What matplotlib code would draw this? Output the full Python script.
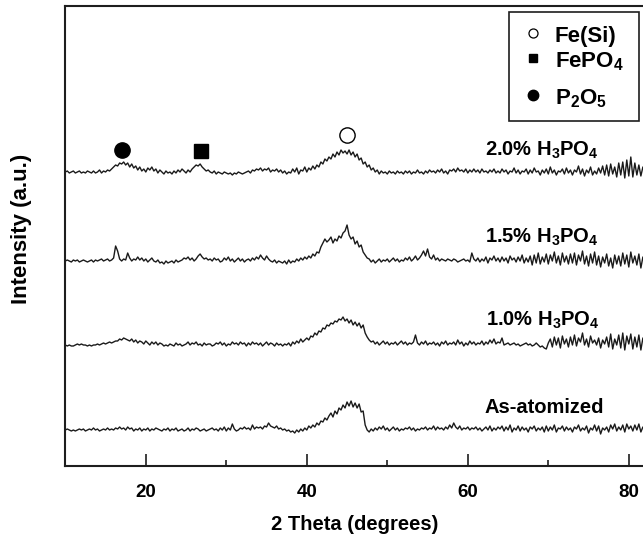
import numpy as np
import matplotlib
matplotlib.use("Agg")
import matplotlib.pyplot as plt
from matplotlib.lines import Line2D
from matplotlib.patches import Rectangle

plt.rcParams['font.family'] = ['Liberation Sans', 'DejaVu Sans']
plt.rcParams['font.weight'] = 'bold'
plt.rcParams['mathtext.fontset'] = 'custom'
plt.rcParams['mathtext.rm'] = 'Liberation Sans:bold'
plt.rcParams['mathtext.it'] = 'Liberation Sans:bold'
plt.rcParams['mathtext.bf'] = 'Liberation Sans:bold'

# ---- data (2 theta grid, 0.25 deg step) ----
theta_start, theta_stop, theta_step = 10.0, 82.0, 0.25
two_theta = np.arange(theta_start, theta_stop + theta_step / 2, theta_step)

s_20 = [
    0, 1, -1, 0, 1, -1, 0, 1, -1, 0, -1, 1,
    0, -1, 1, -1, 0, 2, -1, 1, 0, 2, 1, 3,
    5, 7, 6, 9, 8, 10, 7, 9, 5, 8, 4, 6,
    2, 5, 1, 3, 0, 4, 2, 5, 1, 3, -1, 2,
    0, -2, 1, -1, 0, -2, 1, -1, 2, 0, 3, 1,
    -1, 2, 0, 3, 5, 7, 6, 8, 5, 3, 1, 2,
    0, -1, 1, -2, 0, -1, -2, 0, -1, -2, -1, -3,
    -1, -2, 0, -1, -2, -1, 0, 1, -1, 2, 1, 3,
    2, 4, 1, 3, 2, 4, 0, 2, 1, 3, 0, 2,
    -1, 1, -2, 0, -1, 3, 0, 4, -2, 2, 1, 5,
    0, 4, 2, 6, 3, 7, 5, 10, 8, 13, 11, 15,
    13, 18, 15, 20, 17, 22, 19, 21, 18, 22, 17, 20,
    15, 18, 12, 14, 8, 10, 5, 7, 2, 4, 0, 2,
    -2, 1, -1, 0, -2, 1, -1, 0, -2, 1, -1, 0,
    -2, 1, -1, 1, -2, 0, -1, 2, -1, 0, -2, 1,
    -1, 2, 0, 1, -1, 2, 0, 3, -1, 1, -2, 2,
    1, 3, 0, 4, 1, 2, 0, 3, -1, 2, 0, 3,
    0, 2, -1, 3, 0, 1, -1, 2, 0, 3, -1, 1,
    -1, 3, 0, 2, -2, 1, 0, 4, -1, 2, -2, 1,
    0, 3, -2, 2, -1, 4, 0, 1, -3, 2, -1, 3,
    -2, 5, -1, 2, -3, 1, 0, 3, -2, 4, -1, 2,
    -3, 2, 0, 6, -2, 3, -4, 2, -1, 5, -3, 1,
    -2, 4, -1, 6, -3, 7, -4, 8, -2, 5, -5, 9,
    -3, 10, -6, 12, -4, 15, -5, 9, -3, 7, -4, 5,
    0,
]

s_15 = [
    0, 1, 0, -1, 1, 0, 1, -1, 0, 1, 0, -1,
    0, 1, -1, 1, 0, 1, 2, 0, 1, 2, 0, 1,
    3, 15, 10, 2, 0, 2, 1, 8, 3, 0, 2, 1,
    4, 1, 3, 0, 2, -1, 1, 3, 0, -1, 1, -2,
    -1, -3, 0, -2, -1, 0, -2, 1, -1, 0, 1, 3,
    2, 4, 1, 3, 0, 2, 5, 7, 4, 2, 3, 1,
    2, 0, 3, 1, 2, -1, 0, 3, 1, 4, 0, 2,
    -1, 1, 3, 0, 2, -1, 1, 2, 0, 3, 1, 4,
    2, 6, 3, 1, 5, 2, 0, -1, 1, -2, 0, -1,
    -2, 0, -3, 1, -2, 0, -1, 2, 0, 3, 1, 4,
    2, 5, 3, 7, 5, 9, 8, 14, 18, 22, 19, 21,
    24, 18, 22, 20, 25, 23, 28, 30, 36, 26, 22, 24,
    17, 20, 14, 16, 9, 6, 3, 2, -1, 1, -2, 0,
    2, -1, 1, 0, 2, -1, 1, 3, 0, 2, -1, 1,
    0, 3, 1, 4, 0, 2, 5, 1, 3, 6, 10, 5,
    12, 4, 2, 6, 1, 3, 0, 2, 1, 0, 2, 1,
    0, 2, 1, -1, 0, 1, 2, 0, 1, -1, 8, 2,
    0, 3, -1, 2, 0, 4, -2, 3, 1, 5, 0, 3,
    -1, 4, 0, 3, -2, 5, 1, 3, -1, 4, 0, 6,
    -2, 3, -1, 5, -4, 6, -2, 8, -3, 4, -1, 7,
    -3, 6, 0, 9, -2, 5, -4, 8, -1, 5, -3, 7,
    -2, 8, -4, 6, 0, 10, -3, 5, -5, 7, -2, 9,
    -4, 5, -6, 4, -2, 7, -5, 3, -7, 6, -3, 5,
    -5, 8, -3, 6, -6, 9, -2, 5, -4, 7, -7, 4,
    -5,
]

s_10 = [
    0, -1, 0, -1, -1, 0, 1, 0, 1, 0, 0, -1,
    0, -1, 0, 0, 1, 0, 1, 2, 1, 2, 3, 2,
    3, 4, 4, 6, 5, 7, 6, 5, 4, 6, 3, 5,
    2, 4, 3, 1, 4, 2, 0, 3, 1, 3, 0, 2,
    1, -1, 0, -1, 1, 0, -1, 2, 0, 1, -1, 0,
    1, 3, 0, 2, 1, 3, 0, 1, -1, 2, 0, 1,
    1, -1, 0, 2, 1, 3, 0, 2, -1, 1, 0, 3,
    1, 2, 0, 3, 1, 2, -1, 2, 0, 3, 1, 2,
    0, 2, -1, 1, 3, 0, 2, 1, -1, 2, 0, 1,
    -1, 1, 0, 2, -1, 3, 1, 4, 2, 6, 3, 5,
    7, 5, 9, 8, 12, 10, 14, 13, 17, 16, 20, 19,
    22, 21, 24, 23, 26, 25, 28, 24, 26, 22, 25, 20,
    23, 19, 22, 17, 20, 12, 8, 5, 3, 4, 1, 3,
    0, 2, 4, 1, 3, 0, 2, 1, 3, 0, 2, 4,
    1, 3, 0, 2, 1, 3, 10, 2, 0, 3, 1, 4,
    0, 2, 1, 3, 0, 2, -1, 3, 1, 4, 0, 2,
    1, 3, 0, 5, 1, 3, -1, 2, 0, 4, 1, 3,
    0, 2, 1, 4, 0, 3, 1, 5, 2, 6, 1, 3,
    2, 7, 0, 1, 2, 0, 1, 2, 0, 1, -1, 0,
    1, 2, 0, 1, -1, 0, 2, 0, -2, -1, -3, -4,
    2, 6, -2, 8, 0, 7, -3, 9, 1, 6, -2, 8,
    0, 10, -1, 7, 3, 12, 0, 6, -2, 9, 2, 5,
    0, 7, -3, 5, 1, 8, -2, 11, -4, 6, 0, 10,
    -3, 12, -5, 9, 1, 11, -4, 8, -2, 10, -5, 7,
    0,
]

s_as = [
    0, 1, 0, -1, 0, -1, 0, 1, 0, 1, -1, 0,
    1, 0, 2, 0, 1, -1, 0, 1, 0, 2, 0, 1,
    0, 2, 1, 3, 1, 2, 0, 3, 1, 2, -1, 1,
    0, 2, -1, 1, 0, 2, -1, 1, 0, 2, 1, 0,
    -1, 1, 0, 2, -1, 1, 0, 2, -1, 0, 1, -1,
    0, 2, -1, 1, 0, 2, 1, -1, 0, 1, -1, 0,
    1, 2, 0, 1, -1, 2, 0, 3, -1, 2, 0, 6,
    1, -1, 0, 2, 1, 3, 1, 2, 0, 5, 1, 3,
    2, 3, 1, 4, 3, 7, 4, 3, 2, 4, 1, 2,
    0, 1, -1, 0, -2, -1, -3, 0, -2, 1, -1, 2,
    0, 4, 2, 5, 3, 7, 5, 9, 8, 12, 10, 14,
    17, 13, 19, 16, 22, 20, 25, 22, 28, 24, 29, 23,
    27, 22, 26, 18, 19, 5, 0, -2, 1, -1, 2, 0,
    3, 1, 4, 0, 2, -1, 1, 3, 0, 2, -1, 1,
    0, 2, 1, 3, 0, 2, -1, 1, 0, 2, 1, 3,
    0, 2, 1, 4, 0, 3, 1, 2, 0, 3, 1, 5,
    2, 7, 3, 1, 4, 0, 2, 1, 3, 0, 2, 1,
    3, 0, 2, -1, 1, 3, 0, 4, -1, 2, 0, 3,
    1, 4, -1, 3, 0, 5, -2, 2, 0, 4, -1, 3,
    0, 2, -2, 3, 1, 4, -1, 2, 0, 3, -2, 4,
    -1, 3, 0, 5, -2, 2, 1, 4, -1, 3, 0, 2,
    -2, 3, 1, 5, -1, 2, 0, 4, -3, 2, 0, 5,
    -1, 4, -4, 2, 0, 3, -2, 5, 1, 6, -1, 3,
    0, 5, -2, 6, 1, 4, -1, 5, 0, 6, -2, 3,
    1,
]

series = [s_as, s_10, s_15, s_20]
series_labels = ['As-atomized', r'1.0% H$_3$PO$_4$', r'1.5% H$_3$PO$_4$', r'2.0% H$_3$PO$_4$']

# phase markers on the 2.0% pattern
phase_names = ['Fe(Si)', r'FePO$_4$', r'P$_2$O$_5$']
phase_positions = [45.0, 26.9, 17.1]

x_ticks = [20, 40, 60, 80]
x_minor = [30, 50, 70]
x_label = '2 Theta (degrees)'
y_label = 'Intensity (a.u.)'

for s in series:
    assert len(s) == len(two_theta), (len(s), len(two_theta))

# ---- layout / style ----
offsets = [36, 121, 205, 294]
label_x = [62.1, 62.3, 62.1, 62.1]
label_y = [53, 140, 223, 310]
marker_y = [331, 315, 316]
W, H = 643, 538

fig = plt.figure(figsize=(W / 100, H / 100), dpi=100)
ax = fig.add_axes([65.3 / W, 1 - 466 / H, 644 / W, 460 / H])
ax.set_xlim(10, 90)
ax.set_ylim(0, 460)

line_color = '#1a1a1a'
for s, off in zip(series, offsets):
    ax.plot(two_theta, np.asarray(s) + off, color=line_color, lw=1.0)

for lab, lx, ly in zip(series_labels, label_x, label_y):
    ax.text(lx, ly, lab, fontsize=14.5, fontweight='bold', ha='left', va='baseline')

# phase markers
ax.plot([phase_positions[0]], [marker_y[0]], marker='o', ms=11, mfc='white', mec='black', mew=1.0, ls='none')
ax.plot([phase_positions[1]], [marker_y[1]], marker='s', ms=10, mfc='black', mec='black', ls='none')
ax.plot([phase_positions[2]], [marker_y[2]], marker='o', ms=11, mfc='black', mec='black', ls='none')

for side in ['left', 'bottom', 'top']:
    ax.spines[side].set_linewidth(1.5)
    ax.spines[side].set_color('#1e1e1e')
ax.spines['right'].set_visible(False)

ax.set_yticks([])
ax.set_xticks(x_ticks)
ax.set_xticks(x_minor, minor=True)
ax.tick_params(axis='x', which='major', direction='in', length=8.6, width=1.2,
               labelsize=13.5, pad=13, top=False, color='#1e1e1e')
ax.tick_params(axis='x', which='minor', direction='in', length=4.3, width=1.2,
               top=False, color='#1e1e1e')
for t in ax.get_xticklabels():
    t.set_fontweight('bold')

fig.text(355 / W, 1 - 525 / H, x_label, fontsize=14.5, fontweight='bold', ha='center', va='center')
fig.text(22 / W, 1 - 229 / H, y_label, fontsize=16, fontweight='bold', ha='center', va='center', rotation=90)

# legend box (drawn in figure pixels)
def fx(px):
    return px / W

def fy(py):
    return 1 - py / H

fig.add_artist(Rectangle((fx(509), fy(121)), (639 - 509) / W, (121 - 12) / H,
                         transform=fig.transFigure, fill=False, ec='#1e1e1e', lw=1.2))
leg_y = [33, 58, 95]
leg_base = [42, 67, 104]
leg_styles = [dict(marker='o', ms=6.5, mfc='white', mec='black', mew=0.9),
              dict(marker='s', ms=6, mfc='black', mec='black'),
              dict(marker='o', ms=7.5, mfc='black', mec='black')]
for name, yy, yb, st in zip(phase_names, leg_y, leg_base, leg_styles):
    fig.add_artist(Line2D([fx(533)], [fy(yy)], transform=fig.transFigure, ls='none', **st))
    fig.text(fx(555), fy(yb), name, fontsize=16, fontweight='bold', ha='left', va='baseline')

fig.savefig('out.png', dpi=100)
